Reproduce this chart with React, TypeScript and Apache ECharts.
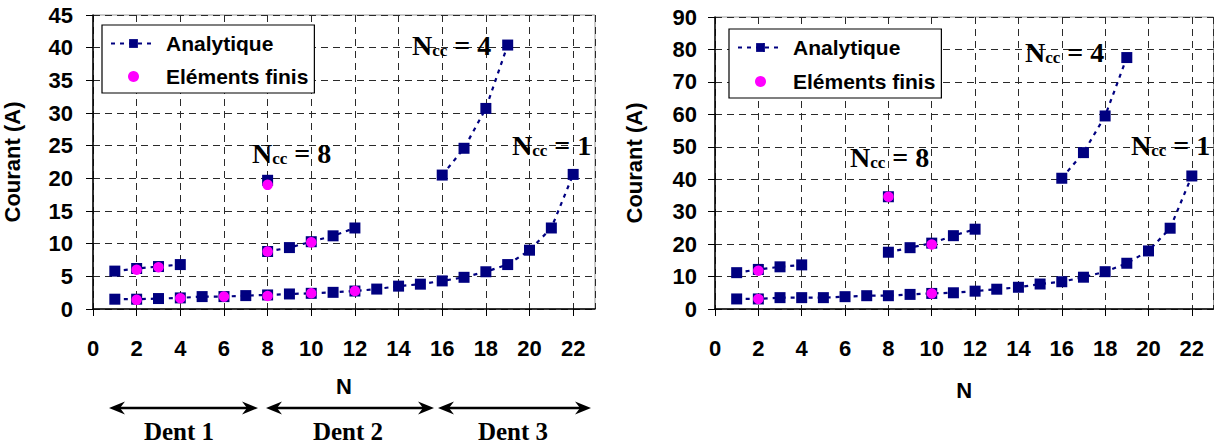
import React, { useEffect, useRef } from 'react';
import * as echarts from 'echarts';

// ---------- data ----------
const nAll = [1, 2, 3, 4, 5, 6, 7, 8, 9, 10, 11, 12, 13, 14, 15, 16, 17, 18, 19, 20, 21, 22];
const nGroupD1 = [1, 2, 3, 4];
const nGroupD2 = [8, 9, 10, 11, 12];
const nGroupD3 = [16, 17, 18, 19];
const nTop = [8];

// left chart (a)
const aNcc1 = [1.5, 1.5, 1.6, 1.7, 1.9, 1.9, 2.05, 2.15, 2.3, 2.4, 2.55, 2.75, 3.05, 3.5, 3.8, 4.3, 4.85, 5.7, 6.8, 9.0, 12.4, 20.6];
const aUpperD1 = [5.8, 6.2, 6.5, 6.8];
const aUpperD2 = [8.8, 9.4, 10.3, 11.2, 12.4];
const aNcc4 = [20.5, 24.6, 30.7, 40.4];
const aTop = [19.7];
const aFeN = [2, 2, 3, 4, 6, 8, 8, 8, 10, 10, 12];
const aFeVal = [6.0, 1.4, 6.4, 1.65, 1.9, 19.0, 8.8, 2.0, 10.2, 2.4, 2.75];

// right chart (b)
const bNcc1 = [3.1, 3.1, 3.5, 3.5, 3.5, 3.8, 4.1, 4.1, 4.5, 4.8, 5.0, 5.5, 6.1, 6.7, 7.7, 8.4, 9.8, 11.5, 14.1, 17.9, 24.9, 41.0];
const bUpperD1 = [11.2, 12.2, 13.0, 13.6];
const bUpperD2 = [17.5, 18.9, 20.3, 22.6, 24.6];
const bNcc4 = [40.3, 48.2, 59.5, 77.5];
const bTop = [34.6];
const bFeN = [2, 2, 8, 10, 10];
const bFeVal = [11.8, 3.1, 34.6, 19.9, 4.8];

// axes
const xMax = 23;
const xInterval = 2;
const aYMax = 45;
const aYInterval = 5;
const bYMax = 90;
const bYInterval = 10;

const legendNames = ['Analytique', 'Eléments finis'];
const dentLabels = ['Dent 1', 'Dent 2', 'Dent 3'];

// ---------- styles ----------
const NAVY = '#000080';
const MAGENTA = '#FF00FF';
const SANS = 'Liberation Sans, Arial, sans-serif';
const SERIF = 'Liberation Serif, Times New Roman, serif';

const zip = (xs: number[], ys: number[]) => xs.map((x, i) => [x, ys[i]]);

function analyt(idx: number, xs: number[], ys: number[]) {
  return {
    type: 'line',
    name: 'Analytique',
    xAxisIndex: idx,
    yAxisIndex: idx,
    data: zip(xs, ys),
    symbol: 'rect',
    symbolSize: 11,
    itemStyle: { color: NAVY },
    lineStyle: { color: NAVY, width: 2.2, type: [4, 5] },
    z: 3,
  };
}

function fe(idx: number, xs: number[], ys: number[]) {
  return {
    type: 'scatter',
    name: 'Eléments finis',
    xAxisIndex: idx,
    yAxisIndex: idx,
    data: zip(xs, ys),
    symbol: 'circle',
    symbolSize: 10.5,
    itemStyle: { color: MAGENTA, opacity: 1 },
    z: 4,
  };
}

const gridLine = { show: true, lineStyle: { color: '#2a2a2a', width: 1, type: [7, 5] } };

function xAxis(idx: number, nameGap: number) {
  return {
    type: 'value',
    gridIndex: idx,
    min: 0,
    max: xMax,
    interval: xInterval,
    name: 'N',
    nameLocation: 'middle',
    nameGap,
    nameTextStyle: { fontFamily: SANS, fontWeight: 'bold', fontSize: 22, color: '#000' },
    axisLine: { show: true, onZero: false, lineStyle: { color: '#000', width: 1.5 } },
    axisTick: { show: true, inside: false, length: 7, lineStyle: { color: '#000', width: 1 } },
    axisLabel: { show: true, margin: 28, showMaxLabel: false, fontFamily: SANS, fontWeight: 'bold', fontSize: 22, color: '#000' },
    splitLine: gridLine,
  };
}

function yAxis(idx: number, max: number, interval: number, margin: number) {
  return {
    type: 'value',
    gridIndex: idx,
    min: 0,
    max,
    interval,
    name: 'Courant (A)',
    nameLocation: 'middle',
    nameRotate: 90,
    nameGap: 70,
    nameTextStyle: { fontFamily: SANS, fontWeight: 'bold', fontSize: 22, color: '#000' },
    axisLine: { show: true, onZero: false, lineStyle: { color: '#000', width: 1.5 } },
    axisTick: { show: true, inside: false, length: 7, lineStyle: { color: '#000', width: 1 } },
    axisLabel: { show: true, margin, fontFamily: SANS, fontWeight: 'bold', fontSize: 22, color: '#000' },
    splitLine: gridLine,
  };
}

function legend(left: number, top: number, gap: number) {
  return {
    data: legendNames,
    orient: 'vertical',
    left,
    top,
    selectedMode: false,
    backgroundColor: '#fff',
    borderColor: '#000',
    borderWidth: 1.2,
    borderRadius: 0,
    padding: [8, 6, 6, 8],
    itemGap: gap,
    itemWidth: 45,
    itemHeight: 11,
    lineStyle: { width: 2 },
    textStyle: { fontFamily: SANS, fontWeight: 'bold', fontSize: 21, color: '#000', padding: [0, 0, 0, 5] },
  };
}

const richNcc = {
  n: { fontFamily: SERIF, fontWeight: 'bold', fontSize: 28, lineHeight: 28, verticalAlign: 'middle', color: '#000' },
  s: { fontFamily: SERIF, fontWeight: 'bold', fontSize: 17, lineHeight: 6, verticalAlign: 'bottom', color: '#000' },
};

function ncc(x: number, y: number, k: number) {
  return {
    type: 'text',
    x,
    y,
    z: 10,
    style: {
      text: `{n|N}{s|cc}{n| = ${k}}`,
      rich: richNcc,
      align: 'left',
      verticalAlign: 'middle',
    },
  };
}

function arrow(x0: number, x1: number, y: number) {
  const h = 16, w = 6.5, notch = 11;
  return [
    { type: 'line', shape: { x1: x0 + 6, y1: y, x2: x1 - 6, y2: y }, style: { stroke: '#000', lineWidth: 2.5 } },
    { type: 'polygon', shape: { points: [[x0, y], [x0 + h, y - w], [x0 + notch, y], [x0 + h, y + w]] }, style: { fill: '#000' } },
    { type: 'polygon', shape: { points: [[x1, y], [x1 - h, y - w], [x1 - notch, y], [x1 - h, y + w]] }, style: { fill: '#000' } },
  ];
}

function dent(cx: number, y: number, label: string) {
  return {
    type: 'text',
    x: cx,
    y,
    style: { text: label, fontFamily: SERIF, fontWeight: 'bold', fontSize: 25, fill: '#000', align: 'center', verticalAlign: 'middle' },
  };
}

export default function App() {
  const ref = useRef<HTMLDivElement>(null);
  useEffect(() => {
    if (!ref.current) return;
    const chart = echarts.init(ref.current, null, { renderer: 'svg' });
    const arrowY = 408;
    const option = {
      animation: false,
      backgroundColor: '#fff',
      grid: [
        { left: 93, top: 15, width: 502, height: 294, show: true, borderColor: '#999', borderWidth: 1, outerBoundsMode: 'none' },
        { left: 715, top: 17, width: 498.5, height: 292, show: true, borderColor: '#999', borderWidth: 1, outerBoundsMode: 'none' },
      ],
      xAxis: [xAxis(0, 66), xAxis(1, 70)],
      yAxis: [yAxis(0, aYMax, aYInterval, 20), yAxis(1, bYMax, bYInterval, 18)],
      legend: [legend(102, 25, 12), legend(729, 29, 13)],
      series: [
        analyt(0, nAll, aNcc1),
        analyt(0, nGroupD1, aUpperD1),
        analyt(0, nGroupD2, aUpperD2),
        analyt(0, nGroupD3, aNcc4),
        analyt(0, nTop, aTop),
        fe(0, aFeN, aFeVal),
        analyt(1, nAll, bNcc1),
        analyt(1, nGroupD1, bUpperD1),
        analyt(1, nGroupD2, bUpperD2),
        analyt(1, nGroupD3, bNcc4),
        analyt(1, nTop, bTop),
        fe(1, bFeN, bFeVal),
      ],
      graphic: [
        ncc(252, 153, 8),
        ncc(412, 45, 4),
        ncc(512, 145, 1),
        ncc(850, 157, 8),
        ncc(1025, 52, 4),
        ncc(1131, 145, 1),
        ...arrow(109, 258, arrowY),
        ...arrow(266, 434, arrowY),
        ...arrow(438, 591, arrowY),
        dent(179, 431, dentLabels[0]),
        dent(348, 431, dentLabels[1]),
        dent(513, 431, dentLabels[2]),
      ],
    };
    chart.setOption(option as any);
    return () => chart.dispose();
  }, []);
  return (
    <div
      ref={ref}
      style={{ position: 'absolute', left: 0, top: 0, width: 1214, height: 444, background: '#fff' }}
    />
  );
}
